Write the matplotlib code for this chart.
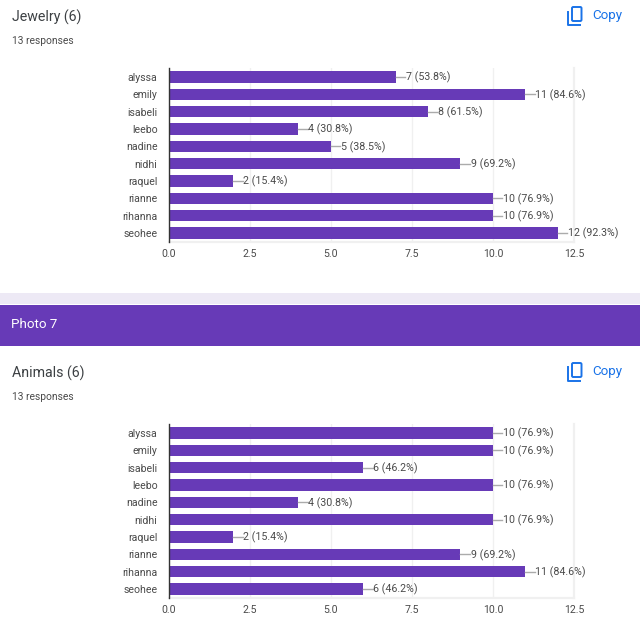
#!/usr/bin/env python3

import matplotlib
matplotlib.use('Agg')
import matplotlib.pyplot as plt
from matplotlib.patches import Rectangle, FancyBboxPatch

names = ['alyssa', 'emily', 'isabeli', 'leebo', 'nadine', 'nidhi', 'raquel', 'rianne', 'rihanna', 'seohee']
jewelry = [7, 11, 8, 4, 5, 9, 2, 10, 10, 12]
jewelry_pct = [53.8, 84.6, 61.5, 30.8, 38.5, 69.2, 15.4, 76.9, 76.9, 92.3]
animals = [10, 10, 6, 10, 4, 10, 2, 9, 11, 6]
animals_pct = [76.9, 76.9, 46.2, 76.9, 30.8, 76.9, 15.4, 69.2, 84.6, 46.2]
x_ticks = [0, 2.5, 5, 7.5, 10, 12.5]

W, H = 640, 634
PURPLE = '#673ab7'
TEXT = '#4a4a4a'
BLUE = '#1a73e8'

plt.rcParams['font.family'] = ['Roboto', 'DejaVu Sans']
fig = plt.figure(figsize=(W / 100, H / 100), dpi=100)


def px_axes(left, top, right, bottom):
    return fig.add_axes([left / W, 1 - bottom / H, (right - left) / W, (bottom - top) / H])


def fig_rect(left, top, right, bottom, color, z=0):
    fig.add_artist(Rectangle((left / W, 1 - bottom / H), (right - left) / W, (bottom - top) / H,
                             transform=fig.transFigure, color=color, lw=0, zorder=z))


def fig_text(x, y, s, **kw):
    fig.text(x / W, 1 - y / H, s, va='center', **kw)


def copy_icon(x, y):
    # back page is an open L, front page a rounded box
    fig.add_artist(plt.Line2D([(x + 1) / W, (x + 1) / W, (x + 13) / W],
                              [1 - (y + 5) / H, 1 - (y + 18) / H, 1 - (y + 18) / H],
                              color=BLUE, lw=1.4))
    fig.add_artist(FancyBboxPatch(((x + 5) / W, 1 - (y + 14.5) / H), 9.5 / W, 14 / H,
                                  boxstyle='round,pad=0,rounding_size=0.002',
                                  transform=fig.transFigure, fc='none', ec=BLUE, lw=1.4))


def section(top, title, values, pcts):
    fig_text(12, top + 17, title, fontsize=10.2, color='#3c4043')
    fig_text(12, top + 40.5, '13 responses', fontsize=7.4, color=TEXT)
    copy_icon(567, top + 6.5)
    fig_text(592, top + 16, 'Copy', fontsize=9.6, color=BLUE)

    ax = px_axes(168.5, top + 68.3, 574, top + 241.7)
    pos = range(len(names))
    ax.barh(pos, values, height=0.66, color=PURPLE, zorder=3)
    ax.set_xlim(0, 12.5)
    ax.set_ylim(len(names) - 0.5, -0.5)
    ax.set_yticks(list(pos))
    ax.set_yticklabels(names, fontsize=7.6, color=TEXT)
    ax.set_xticks(x_ticks)
    ax.set_xticklabels(['%.1f' % t for t in x_ticks], fontsize=7.6, color=TEXT)
    ax.tick_params(length=0)
    ax.tick_params(axis='y', pad=8)
    ax.tick_params(axis='x', pad=5.2)
    ax.grid(axis='x', color='#f0f0f0', lw=1, zorder=0)
    ax.set_axisbelow(True)
    for s in ['top', 'right', 'bottom']:
        ax.spines[s].set_visible(False)
    ax.spines['left'].set_color('#333333')
    ax.spines['left'].set_linewidth(1)
    ax.spines['left'].set_zorder(5)
    # outer frame of the plot area is heavier than the inner grid
    ax.axhline(len(names) - 0.5, color='#f0f0f0', lw=1.6, zorder=0, clip_on=False)
    ax.axvline(12.5, color='#f0f0f0', lw=1.6, zorder=0, clip_on=False)
    for i, (v, p) in enumerate(zip(values, pcts)):
        # short grey leader between bar end and label
        ax.plot([v, v + 0.29], [i, i], color='#ababab', lw=1, zorder=4, clip_on=False)
        ax.text(v + 0.31, i + 0.03, '%d (%.1f%%)' % (v, p), fontsize=7.7, color=TEXT, va='center',
                clip_on=False, zorder=6)


fig_rect(0, 293, W, 304, '#ede9f5')
fig_rect(0, 305, W, 345.5, PURPLE)
fig_text(11, 324.5, 'Photo 7', fontsize=9.6, color='white', zorder=3)

section(0, 'Jewelry (6)', jewelry, jewelry_pct)
section(356, 'Animals (6)', animals, animals_pct)

fig.savefig('out.png', dpi=100)
